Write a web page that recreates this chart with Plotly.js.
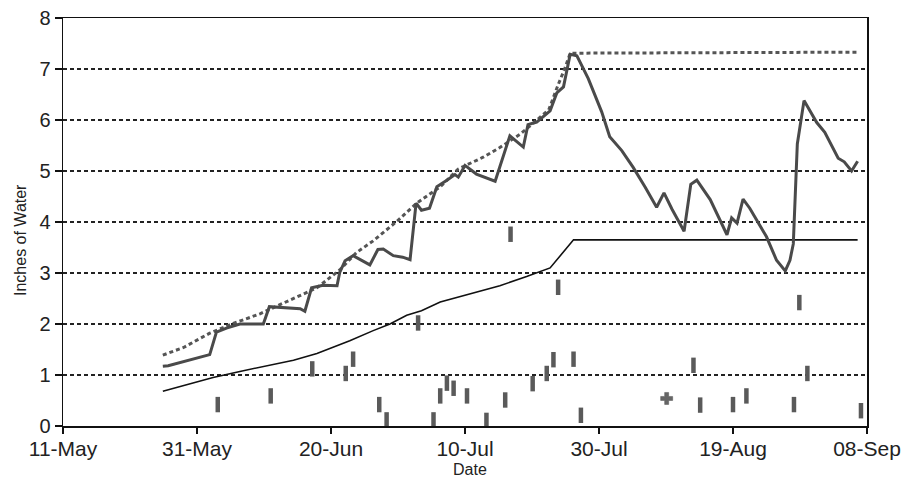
<!DOCTYPE html>
<html>
<head>
<meta charset="utf-8">
<script src="https://cdn.plot.ly/plotly-3.0.1.min.js"></script>
<style>
  html, body { margin: 0; padding: 0; background: #fff; }
  #chart { width: 911px; height: 478px; }
</style>
</head>
<body>
<div id="chart"></div>
<script>
// ---- Data (days after 11-May, value in inches of water) ----
const startDate = [2001, 4, 11]; // 11-May

const xTickDays   = [0, 20, 40, 60, 80, 100, 120];
const xTickLabels = ['11-May', '31-May', '20-Jun', '10-Jul', '30-Jul', '19-Aug', '08-Sep'];

// Thick solid line: soil water
const soilDays = [14.9, 15.7, 21.9, 22.9, 24.4, 26.4, 29.9, 30.8, 35.4, 36.1, 37.1, 38.8, 40.9, 41.3, 42.1, 43.3,
  45.8, 47.0, 47.8, 49.3, 50.7, 51.8, 52.7, 53.5, 54.7, 55.8, 57.3, 58.5, 59.0, 60.0, 61.7, 64.5, 66.7, 68.7,
  69.4, 70.7, 72.7, 73.7, 74.7, 75.7, 76.7, 78.4, 80.4, 81.6, 83.4, 85.1, 86.9, 88.6, 89.7, 90.9, 92.7, 93.7,
  94.6, 96.6, 99.1, 99.8, 100.6, 101.5, 102.5, 105.0, 106.5, 107.8, 108.5, 109.0, 109.6, 110.6, 112.5, 113.7,
  115.7, 116.6, 117.7, 118.6];
const soilValues = [1.17, 1.18, 1.40, 1.84, 1.92, 2.00, 2.00, 2.34, 2.30, 2.25, 2.71, 2.76, 2.75, 3.01, 3.24, 3.34,
  3.16, 3.46, 3.47, 3.34, 3.31, 3.26, 4.37, 4.23, 4.27, 4.69, 4.82, 4.93, 4.88, 5.11, 4.94, 4.80, 5.69, 5.47,
  5.91, 5.96, 6.18, 6.53, 6.65, 7.29, 7.26, 6.81, 6.16, 5.67, 5.40, 5.07, 4.68, 4.29, 4.57, 4.25, 3.82, 4.74,
  4.82, 4.44, 3.75, 4.08, 3.98, 4.45, 4.27, 3.71, 3.25, 3.04, 3.25, 3.57, 5.53, 6.38, 5.95, 5.76,
  5.25, 5.18, 5.00, 5.19];

// Dotted line: upper limit
const upperDays = [14.9, 18.0, 21.9, 25.4, 29.4, 33.9, 37.9, 41.3, 43.8, 46.3, 49.8, 52.8, 56.3, 59.0, 62.7, 65.2,
  68.2, 70.2, 72.5, 73.9, 74.9, 75.7, 118.6];
const upperValues = [1.39, 1.54, 1.82, 2.01, 2.20, 2.47, 2.71, 3.06, 3.40, 3.63, 4.01, 4.37, 4.69, 5.04, 5.27, 5.46,
  5.72, 5.94, 6.20, 6.69, 7.01, 7.31, 7.33];

// Thin solid line: lower limit
const lowerDays = [14.9, 19.5, 22.4, 26.4, 30.9, 34.4, 37.9, 40.3, 42.8, 46.3, 48.8, 51.3, 53.5, 56.3, 60.3, 65.2,
  69.2, 72.7, 76.2, 118.6];
const lowerValues = [0.68, 0.85, 0.95, 1.07, 1.20, 1.29, 1.42, 1.54, 1.67, 1.87, 2.00, 2.17, 2.26, 2.43, 2.58, 2.75,
  2.93, 3.10, 3.65, 3.65];

// Bar markers: water events
const eventDays = [23.1, 31.0, 37.2, 42.2, 43.3, 47.2, 48.3, 53.0, 55.3, 56.3, 57.3, 58.3, 60.3, 63.2, 66.0, 66.8,
  70.1, 72.2, 73.2, 73.9, 76.2, 77.3, 94.1, 95.1, 100.0, 102.0, 109.1, 109.9, 111.1, 119.1];
const eventValues = [0.42, 0.59, 1.12, 1.03, 1.31, 0.42, 0.12, 2.02, 0.12, 0.59, 0.84, 0.74, 0.59, 0.11, 0.51, 3.76,
  0.83, 1.03, 1.30, 2.72, 1.31, 0.21, 1.19, 0.41, 0.42, 0.59, 0.42, 2.42, 1.03, 0.30];

// Cross marker
const crossDays = [90.1];
const crossValues = [0.54];

// ---- Helpers ----
const DAY = 86400000;
const base = Date.UTC(startDate[0], startDate[1], startDate[2]);
function toDate(d) { return base + d * DAY; }
const X = arr => arr.map(toDate);

const FONT = 'Liberation Sans, Arial, Helvetica, sans-serif';

const traces = [
  { x: X(lowerDays), y: lowerValues, mode: 'lines', type: 'scatter',
    line: { color: '#111', width: 1.6 }, hoverinfo: 'skip' },
  { x: X(upperDays), y: upperValues, mode: 'lines', type: 'scatter',
    line: { color: '#555', width: 3, dash: '4px,3px' }, hoverinfo: 'skip' },
  { x: X(soilDays), y: soilValues, mode: 'lines', type: 'scatter',
    line: { color: '#4a4a4a', width: 3 }, hoverinfo: 'skip' },
  { x: X(eventDays), y: eventValues, mode: 'markers', type: 'scatter',
    marker: { symbol: 'line-ns', size: 11, color: '#5a5a5a', line: { color: '#5a5a5a', width: 4.5 } },
    hoverinfo: 'skip' },
  { x: X(crossDays), y: crossValues, mode: 'markers', type: 'scatter',
    marker: { symbol: 'cross', size: 10, color: '#666', line: { color: '#555', width: 0.5 } },
    hoverinfo: 'skip' }
];

const layout = {
  width: 911, height: 478,
  margin: { l: 63, r: 44, t: 18, b: 52 },
  paper_bgcolor: '#fff', plot_bgcolor: '#fff',
  showlegend: false,
  font: { family: FONT, color: '#222' },
  xaxis: {
    type: 'date',
    range: [toDate(0), toDate(120)],
    tickvals: X(xTickDays), ticktext: xTickLabels,
    ticks: 'outside', ticklen: 6, tickwidth: 1.3, tickcolor: '#111',
    ticklabelstandoff: -3,
    tickfont: { family: FONT, size: 21, color: '#222' },
    showgrid: false, zeroline: false,
    showline: true, mirror: true, linecolor: '#111', linewidth: 1.5
  },
  yaxis: {
    range: [0, 8], dtick: 1, tick0: 0,
    ticks: 'outside', ticklen: 7, tickwidth: 1.3, tickcolor: '#111',
    tickfont: { family: FONT, size: 20, color: '#222' },
    showgrid: true, gridcolor: '#222', gridwidth: 2, griddash: '4px,3px',
    zeroline: false,
    showline: true, mirror: true, linecolor: '#111', linewidth: 1.5
  },
  annotations: [
    { text: 'Inches of Water', xref: 'paper', yref: 'paper',
      x: (20 - 63) / 804, y: (426 - 240) / 408, xanchor: 'center', yanchor: 'middle',
      textangle: -90, showarrow: false, font: { family: FONT, size: 16, color: '#222' } },
    { text: 'Date', xref: 'paper', yref: 'paper',
      x: (470 - 63) / 804, y: (426 - 469) / 408, xanchor: 'center', yanchor: 'middle',
      showarrow: false, font: { family: FONT, size: 16, color: '#222' } }
  ]
};

Plotly.newPlot('chart', traces, layout, { staticPlot: true, displayModeBar: false });
</script>
</body>
</html>
